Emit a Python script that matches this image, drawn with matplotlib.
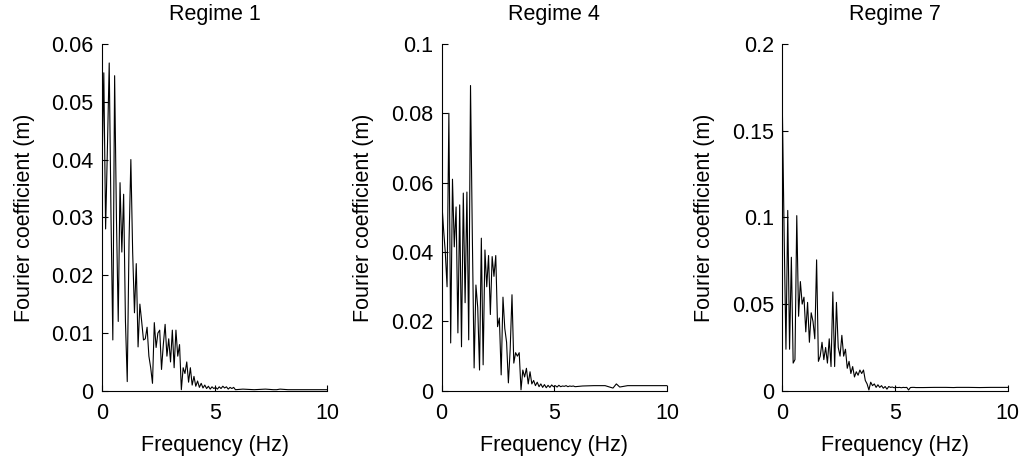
import numpy as np
import matplotlib
matplotlib.use('Agg')
import matplotlib.pyplot as plt

plt.rcParams['font.family'] = ['Liberation Sans', 'DejaVu Sans']

# frequency resolution of the spectra (Hz)
df = 0.08

titles = ["Regime 1", "Regime 4", "Regime 7"]

amp_regime1 = [
    0.038, 0.055, 0.028, 0.042, 0.0567, 0.030, 0.0088, 0.0545, 0.030, 0.012,
    0.036, 0.024, 0.034, 0.012, 0.0016, 0.026, 0.040, 0.024, 0.0135, 0.022,
    0.0076, 0.015, 0.012, 0.0088, 0.009, 0.011, 0.006, 0.004, 0.0013, 0.0118,
    0.0075, 0.010, 0.0105, 0.0037, 0.008, 0.0115, 0.006, 0.009, 0.005, 0.0105,
    0.004, 0.0105, 0.006, 0.008, 0.0002, 0.004, 0.003, 0.005, 0.0015, 0.004,
    0.001, 0.0025, 0.0008, 0.0017, 0.0006, 0.0013, 0.0005, 0.001, 0.0004, 0.0008,
    0.0003, 0.0007, 0.0004, 0.0006, 0.0003, 0.0007, 0.0004, 0.0008, 0.0005, 0.0007,
    0.0003, 0.0006, 0.0004, 0.0006, 0.0002,
]
amp_regime4 = [
    0.055, 0.047, 0.040, 0.030, 0.080, 0.0138, 0.061, 0.0415, 0.053, 0.0167,
    0.0536, 0.0127, 0.057, 0.0254, 0.0573, 0.0147, 0.088, 0.045, 0.0066, 0.0305,
    0.024, 0.006, 0.044, 0.0075, 0.0406, 0.030, 0.039, 0.022, 0.0387, 0.033,
    0.039, 0.0185, 0.021, 0.0046, 0.027, 0.018, 0.014, 0.0023, 0.012, 0.0277,
    0.008, 0.011, 0.010, 0.011, 0.0003, 0.006, 0.004, 0.0065, 0.002, 0.0055,
    0.002, 0.003, 0.0015, 0.0025, 0.0012, 0.002, 0.001, 0.0018, 0.0009, 0.0016,
    0.001, 0.0017, 0.0012, 0.0015, 0.0011, 0.0016, 0.0012, 0.0014, 0.0013, 0.0015,
    0.0012, 0.0014, 0.0013, 0.0014, 0.0012,
]
amp_regime7 = [
    0.163, 0.090, 0.024, 0.104, 0.024, 0.077, 0.016, 0.018, 0.101, 0.043,
    0.063, 0.050, 0.054, 0.034, 0.051, 0.028, 0.045, 0.040, 0.030, 0.0755,
    0.017, 0.020, 0.028, 0.018, 0.025, 0.016, 0.030, 0.014, 0.057, 0.014,
    0.051, 0.025, 0.020, 0.032, 0.020, 0.024, 0.013, 0.017, 0.010, 0.014,
    0.008, 0.011, 0.009, 0.012, 0.010, 0.012, 0.006, 0.004, 0.0005, 0.005,
    0.003, 0.004, 0.002, 0.0035, 0.002, 0.003, 0.0015, 0.0025, 0.001, 0.0025,
    0.002, 0.0022, 0.0018, 0.002, 0.0019, 0.002, 0.0018, 0.002, 0.0019, 0.002,
    0.0005, 0.0019, 0.002, 0.002, 0.0019,
]

# high-frequency tail, coarser sampling
tail_freq = [6.25, 6.75, 7.25, 7.6, 7.75, 7.9, 8.25, 8.75, 9.25, 9.75, 10.0]
tail_regime1 = [0.0003, 0.0002, 0.0003, 0.0002, 0.0002, 0.0003, 0.0002, 0.0002, 0.0002, 0.0002, 0.0002]
tail_regime4 = [0.0014, 0.0015, 0.0015, 0.0008, 0.002, 0.0011, 0.0015, 0.0015, 0.0015, 0.0015, 0.0015]
tail_regime7 = [0.0019, 0.002, 0.002, 0.0019, 0.002, 0.002, 0.002, 0.0019, 0.002, 0.002, 0.002]

y_ticks = [
    [0, 0.01, 0.02, 0.03, 0.04, 0.05, 0.06],
    [0, 0.02, 0.04, 0.06, 0.08, 0.1],
    [0, 0.05, 0.1, 0.15, 0.2],
]
y_ticklabels = [
    ["0", "0.01", "0.02", "0.03", "0.04", "0.05", "0.06"],
    ["0", "0.02", "0.04", "0.06", "0.08", "0.1"],
    ["0", "0.05", "0.1", "0.15", "0.2"],
]
x_ticks = [0, 5, 10]

spectra = [(amp_regime1, tail_regime1), (amp_regime4, tail_regime4), (amp_regime7, tail_regime7)]

fig = plt.figure(figsize=(10.2, 4.62), dpi=100)
lefts = [0.1, 0.433, 0.767]

for k, (amp, tail) in enumerate(spectra):
    ax = fig.add_axes([lefts[k], 0.154, 0.221, 0.751])
    freq = np.arange(len(amp)) * df
    f = np.concatenate([freq, tail_freq])
    a = np.concatenate([amp, tail])
    ax.plot(f, a, color='black', linewidth=0.8)

    ax.set_xlim(0, 10)
    ax.set_ylim(0, y_ticks[k][-1])
    ax.set_xticks(x_ticks)
    ax.set_xticklabels([str(t) for t in x_ticks])
    ax.set_yticks(y_ticks[k])
    ax.set_yticklabels(y_ticklabels[k])
    ax.spines['top'].set_visible(False)
    ax.spines['right'].set_visible(False)
    ax.spines['left'].set_linewidth(0.8)
    ax.spines['bottom'].set_linewidth(0.8)
    ax.tick_params(direction='in', length=4, width=0.8, labelsize=15.5)
    ax.tick_params(axis='x', pad=9)
    ax.tick_params(axis='y', pad=6)
    ax.set_title(titles[k], fontsize=15.5, pad=17)
    ax.set_xlabel("Frequency (Hz)", fontsize=15.5, labelpad=8)
    ax.set_ylabel("Fourier coefficient (m)", fontsize=15.5, labelpad=12)

fig.savefig("out.png", dpi=100, facecolor='white')
